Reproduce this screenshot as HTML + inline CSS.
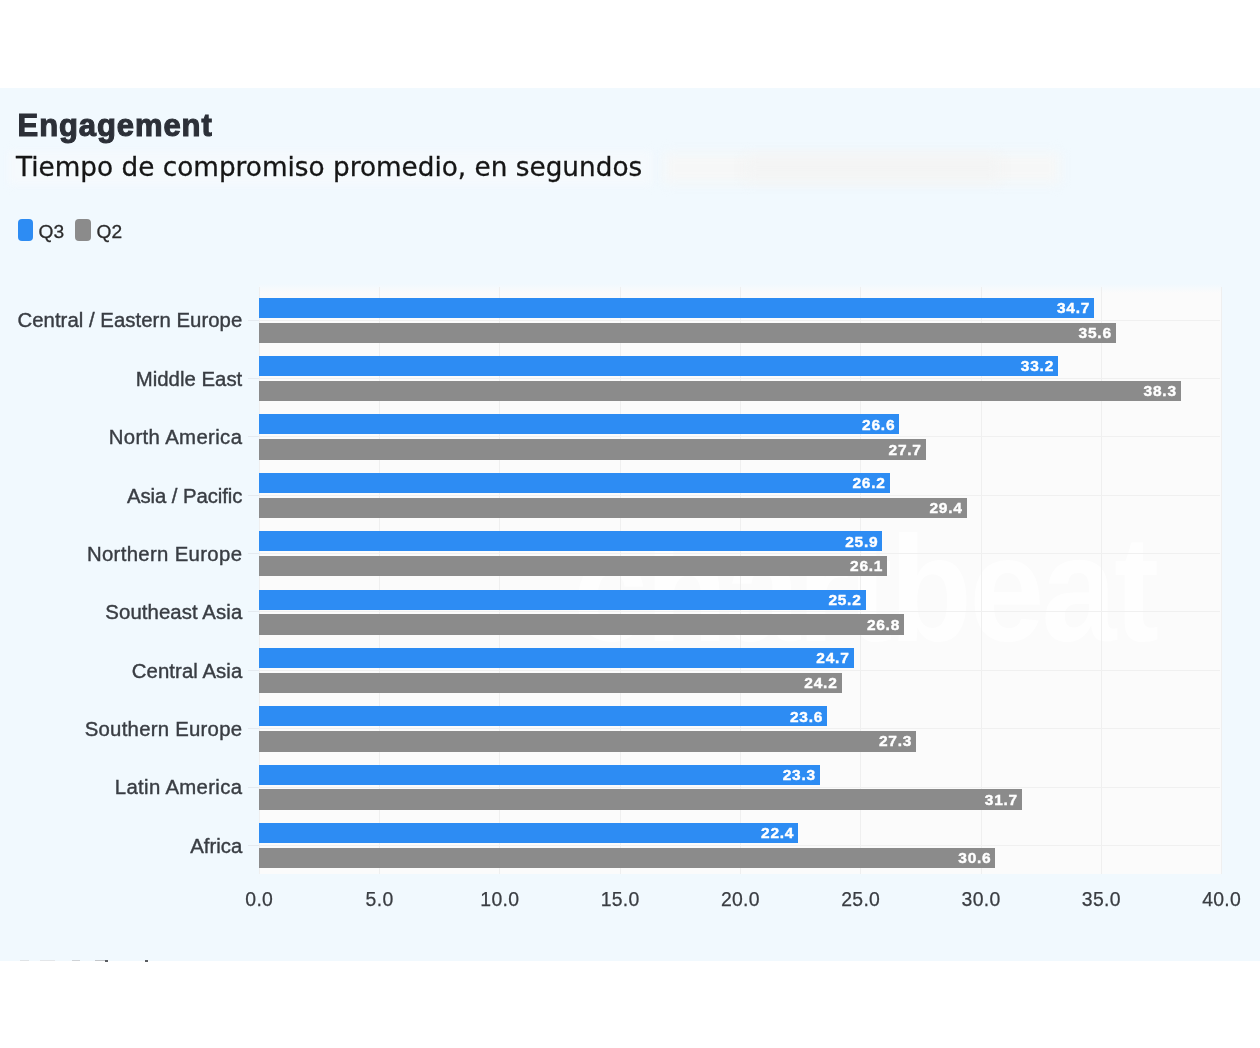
<!DOCTYPE html>
<html lang="es">
<head>
<meta charset="utf-8">
<title>Engagement</title>
<style>
html,body{margin:0;padding:0;background:#fff;}
body{width:1260px;height:1048px;position:relative;overflow:hidden;font-family:"Liberation Sans",sans-serif;}
.panel{position:absolute;left:0;top:88px;width:1260px;height:873px;background:#f1f9fe;}
.abs{position:absolute;white-space:nowrap;}
.title{left:17.6px;top:106.8px;font-size:31px;line-height:38px;font-weight:bold;color:#2c3038;letter-spacing:0.9px;-webkit-text-stroke:1.1px #2c3038;}
.sub{left:16px;top:149.8px;font-family:"DejaVu Sans","Liberation Sans",sans-serif;font-size:26.3px;line-height:34px;color:#161616;-webkit-text-stroke:0.3px #161616;}
.smudge{position:absolute;left:664px;top:153px;width:396px;height:30px;background:#f6f7f7;filter:blur(6px);}
.smudge0{position:absolute;left:8px;top:151px;width:645px;height:34px;background:rgba(250,251,252,0.45);filter:blur(4px);}
.smudge2{position:absolute;left:745px;top:156px;width:255px;height:25px;background:#f3f4f4;filter:blur(6px);}
.sw{position:absolute;top:219.4px;width:15.4px;height:21.6px;border-radius:4px;}
.leg{top:219.6px;font-size:19.2px;line-height:24px;color:#2b2b2b;-webkit-text-stroke:0.3px #2b2b2b;}
.sl{position:absolute;top:960px;height:1px;}
.plot{position:absolute;left:259px;top:284px;width:962px;height:590px;background:linear-gradient(to bottom,rgba(251,251,251,0) 0,#fbfbfb 9px,#fbfbfb 100%);}
.vg{position:absolute;top:287px;width:1px;height:587px;background:#efefef;}
.hg{position:absolute;left:259px;width:961px;height:1px;background:#f0f0f0;}
.tk{position:absolute;left:248px;width:11px;height:1px;background:#e4eaf0;}
.wm{right:104px;top:504px;font-size:150px;line-height:170px;font-weight:bold;color:rgba(255,255,255,0.75);letter-spacing:-3px;transform:scaleX(0.9);transform-origin:100% 50%;}
.bar{position:absolute;left:259.25px;height:20px;}
.b{background:#2d8cf3;}
.g{background:#8b8b8b;}
.val{position:absolute;right:4.0px;top:0.4px;font-size:15.5px;line-height:20px;font-weight:bold;color:#fff;letter-spacing:0.75px;-webkit-text-stroke:0.4px #fff;}
.cat{right:1017.7px;font-size:20.35px;line-height:26px;color:#393d43;-webkit-text-stroke:0.4px #393d43;}
.ax{top:886px;width:80px;text-align:center;font-size:19.4px;line-height:26px;color:#3a3d42;-webkit-text-stroke:0.25px #3a3d42;letter-spacing:0.3px;}
</style>
</head>
<body>
<div class="panel"></div>
<div class="smudge0"></div>
<div class="smudge"></div>
<div class="smudge2"></div>
<div class="abs title">Engagement</div>
<div class="abs sub">Tiempo de compromiso promedio, en segundos</div>
<div class="sw b" style="left:17.8px"></div><div class="abs leg" style="left:38.5px">Q3</div>
<div class="sw g" style="left:74.6px;width:16.6px"></div><div class="abs leg" style="left:96.6px">Q2</div>
<div class="plot"></div>
<div class="abs wm">chartbeat</div>
<div class="sl" style="left:20px;width:9px;background:#dfe3e6"></div><div class="sl" style="left:40px;width:15px;background:#e3e6e9"></div><div class="sl" style="left:72px;width:8px;background:#cfd3d7"></div><div class="sl" style="left:95px;width:10px;background:#c3c7cb"></div><div class="sl" style="left:105px;width:3px;height:2px;background:#5a5d61"></div><div class="sl" style="left:145px;width:3px;height:2px;background:#5a5d61"></div>

<div class="vg" style="left:258.75px"></div>
<div class="vg" style="left:379.05px"></div>
<div class="vg" style="left:499.35px"></div>
<div class="vg" style="left:619.65px"></div>
<div class="vg" style="left:739.95px"></div>
<div class="vg" style="left:860.25px"></div>
<div class="vg" style="left:980.55px"></div>
<div class="vg" style="left:1100.85px"></div>
<div class="vg" style="left:1221.15px"></div>
<div class="hg" style="top:319.58px"></div><div class="tk" style="top:319.58px"></div>
<div class="hg" style="top:377.95px"></div><div class="tk" style="top:377.95px"></div>
<div class="hg" style="top:436.32px"></div><div class="tk" style="top:436.32px"></div>
<div class="hg" style="top:494.69px"></div><div class="tk" style="top:494.69px"></div>
<div class="hg" style="top:553.06px"></div><div class="tk" style="top:553.06px"></div>
<div class="hg" style="top:611.43px"></div><div class="tk" style="top:611.43px"></div>
<div class="hg" style="top:669.80px"></div><div class="tk" style="top:669.80px"></div>
<div class="hg" style="top:728.17px"></div><div class="tk" style="top:728.17px"></div>
<div class="hg" style="top:786.54px"></div><div class="tk" style="top:786.54px"></div>
<div class="hg" style="top:844.91px"></div><div class="tk" style="top:844.91px"></div>
<div class="abs cat" style="top:307.48px;letter-spacing:0.04px">Central / Eastern Europe</div>
<div class="bar b" style="top:297.70px;width:834.88px"><span class="val">34.7</span></div>
<div class="bar g" style="top:322.50px;width:856.54px;height:20.5px"><span class="val">35.6</span></div>
<div class="abs cat" style="top:365.85px;letter-spacing:0.03px">Middle East</div>
<div class="bar b" style="top:356.07px;width:798.79px"><span class="val">33.2</span></div>
<div class="bar g" style="top:380.87px;width:921.50px;height:20.5px"><span class="val">38.3</span></div>
<div class="abs cat" style="top:424.22px;letter-spacing:0.36px">North America</div>
<div class="bar b" style="top:414.44px;width:640.00px"><span class="val">26.6</span></div>
<div class="bar g" style="top:439.24px;width:666.46px;height:20.5px"><span class="val">27.7</span></div>
<div class="abs cat" style="top:482.59px;letter-spacing:-0.08px">Asia / Pacific</div>
<div class="bar b" style="top:472.81px;width:630.37px"><span class="val">26.2</span></div>
<div class="bar g" style="top:497.61px;width:707.36px;height:20.5px"><span class="val">29.4</span></div>
<div class="abs cat" style="top:540.96px;letter-spacing:0.33px">Northern Europe</div>
<div class="bar b" style="top:531.18px;width:623.15px"><span class="val">25.9</span></div>
<div class="bar g" style="top:555.98px;width:627.97px;height:20.5px"><span class="val">26.1</span></div>
<div class="abs cat" style="top:599.33px;letter-spacing:0.09px">Southeast Asia</div>
<div class="bar b" style="top:589.55px;width:606.31px"><span class="val">25.2</span></div>
<div class="bar g" style="top:614.35px;width:644.81px;height:20.5px"><span class="val">26.8</span></div>
<div class="abs cat" style="top:657.70px;letter-spacing:0.07px">Central Asia</div>
<div class="bar b" style="top:647.92px;width:594.28px"><span class="val">24.7</span></div>
<div class="bar g" style="top:672.72px;width:582.25px;height:20.5px"><span class="val">24.2</span></div>
<div class="abs cat" style="top:716.07px;letter-spacing:0.25px">Southern Europe</div>
<div class="bar b" style="top:706.29px;width:567.82px"><span class="val">23.6</span></div>
<div class="bar g" style="top:731.09px;width:656.84px;height:20.5px"><span class="val">27.3</span></div>
<div class="abs cat" style="top:774.44px;letter-spacing:0.33px">Latin America</div>
<div class="bar b" style="top:764.66px;width:560.60px"><span class="val">23.3</span></div>
<div class="bar g" style="top:789.46px;width:762.70px;height:20.5px"><span class="val">31.7</span></div>
<div class="abs cat" style="top:832.81px;letter-spacing:0px">Africa</div>
<div class="bar b" style="top:823.03px;width:538.94px"><span class="val">22.4</span></div>
<div class="bar g" style="top:847.83px;width:736.24px;height:20.5px"><span class="val">30.6</span></div>
<div class="abs ax" style="left:219.25px">0.0</div>
<div class="abs ax" style="left:339.55px">5.0</div>
<div class="abs ax" style="left:459.85px">10.0</div>
<div class="abs ax" style="left:580.15px">15.0</div>
<div class="abs ax" style="left:700.45px">20.0</div>
<div class="abs ax" style="left:820.75px">25.0</div>
<div class="abs ax" style="left:941.05px">30.0</div>
<div class="abs ax" style="left:1061.35px">35.0</div>
<div class="abs ax" style="left:1181.65px">40.0</div>
</body>
</html>
